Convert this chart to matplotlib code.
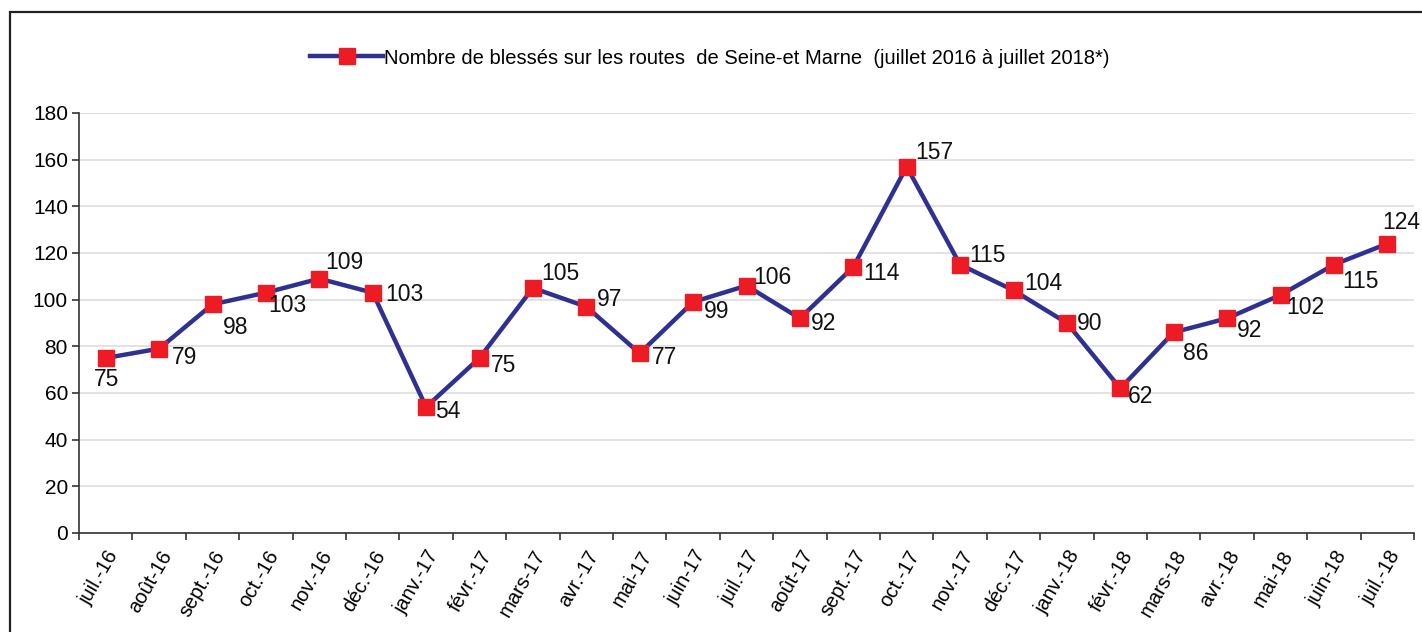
import matplotlib
matplotlib.use("Agg")
import matplotlib.pyplot as plt
from matplotlib.patches import Rectangle
from matplotlib.lines import Line2D

plt.rcParams['font.family'] = ['Liberation Sans', 'DejaVu Sans']

months = ["juil.-16", "août-16", "sept.-16", "oct.-16", "nov.-16", "déc.-16",
          "janv.-17", "févr.-17", "mars-17", "avr.-17", "mai-17", "juin-17",
          "juil.-17", "août-17", "sept.-17", "oct.-17", "nov.-17", "déc.-17",
          "janv.-18", "févr.-18", "mars-18", "avr.-18", "mai-18", "juin-18", "juil.-18"]
blesses = [75, 79, 98, 103, 109, 103, 54, 75, 105, 97, 77, 99,
           106, 92, 114, 157, 115, 104, 90, 62, 86, 92, 102, 115, 124]
series_label = "Nombre de blessés sur les routes  de Seine-et Marne  (juillet 2016 à juillet 2018*)"

# label placement (pixel offsets of the label's left edge / vertical centre from the marker)
label_offsets = [(-12, -22), (13, -9), (10, -23), (2, -13), (6, 16), (13, -2),
                 (9, -4), (11, -8), (8, 14), (11, 7), (12, -4), (11, -10),
                 (7, 8), (11, -5), (10, -6), (9, 14), (9, 9), (11, 7),
                 (10, -1), (8, -8), (9, -21), (10, -12), (6, -12), (8, -17), (-5, 21)]

fig = plt.figure(figsize=(14.22, 6.32), dpi=100)
ax = fig.add_axes([79 / 1422, 1 - 533 / 632, (1414 - 79) / 1422, (533 - 113) / 632])

# outer frame
fig.patches.append(Rectangle((10 / 1422, -0.05), 1.1, 1 - 12 / 632 + 0.05,
                             transform=fig.transFigure, fill=False,
                             edgecolor='#222222', linewidth=1.6))

x = [i + 0.5 for i in range(len(months))]
line_color = '#2e3192'
marker_color = '#ed1c24'
ax.plot(x, blesses, color=line_color, linewidth=3.2, marker='s', markersize=11,
        markerfacecolor=marker_color, markeredgecolor=marker_color, zorder=3)

for xi, v, (dx, dy) in zip(x, blesses, label_offsets):
    ax.annotate(str(v), (xi, v), xytext=(dx, dy), textcoords='offset pixels',
                ha='left', va='center', fontsize=16.5, color='#111111', zorder=4)

ax.set_xlim(0, len(months))
ax.set_ylim(0, 180)
ax.set_yticks(range(0, 181, 20))
ax.set_xticks(range(0, len(months) + 1), minor=False)
ax.set_xticklabels([])
ax.set_xticks(x, minor=True)
ax.set_xticklabels(months, minor=True, rotation=60, ha='right', va='top',
                   rotation_mode='anchor', fontsize=14.5)
ax.tick_params(axis='x', which='minor', length=0, pad=10)
ax.tick_params(axis='x', which='major', length=5, width=1.2, color='#333333')
ax.tick_params(axis='y', length=5, width=1.2, color='#333333', labelsize=15, pad=3)
ax.grid(axis='y', color='#dddddd', linewidth=1.2)
ax.set_axisbelow(True)
for s in ['top', 'right']:
    ax.spines[s].set_visible(False)
for s in ['left', 'bottom']:
    ax.spines[s].set_color('#333333')
    ax.spines[s].set_linewidth(1.2)

handle = Line2D([], [], color=line_color, linewidth=3.2, marker='s', markersize=11,
                markerfacecolor=marker_color, markeredgecolor=marker_color)
fig.legend([handle], [series_label], loc='center', bbox_to_anchor=(710 / 1422, 1 - 58 / 632),
           frameon=False, fontsize=14.5, handlelength=3.6, handletextpad=0.05)

fig.savefig("out.png", dpi=100)
